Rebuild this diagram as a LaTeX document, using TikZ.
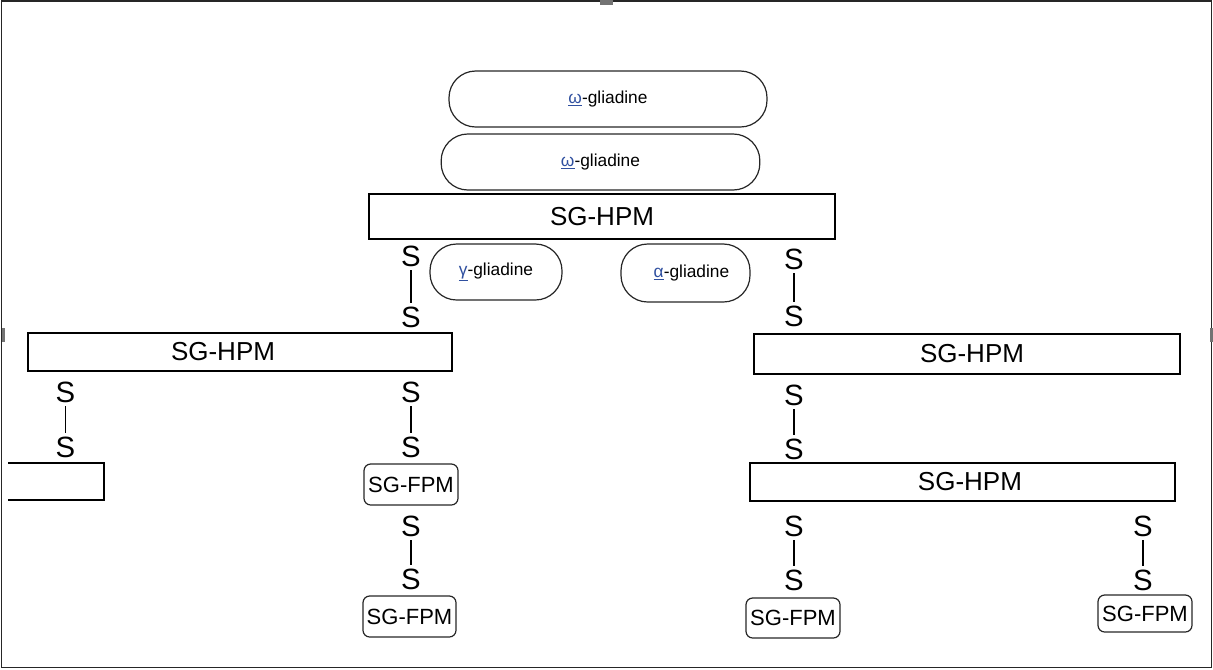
\documentclass[tikz,border=0pt]{standalone}
\usepackage{fontspec}
\setmainfont{Liberation Sans}
\definecolor{linkblue}{HTML}{2F4F9F}
\newcommand{\glia}[1]{\textcolor{linkblue}{\underline{#1}}-gliadine}
\begin{document}
\begin{tikzpicture}[x=0.75pt,y=-0.75pt,
        gliabox/.style={draw=black!85,line width=0.9pt,rounded corners=20pt,
                        inner sep=0pt,font=\fontsize{13}{15}\selectfont},
        hpmbox/.style={draw,line width=1.1pt,inner sep=0pt,
                        font=\fontsize{19.5}{22}\selectfont},
        fpmbox/.style={draw=black!85,line width=0.9pt,rounded corners=5pt,
                        inner sep=0pt,font=\fontsize{16.5}{18}\selectfont},
        sulf/.style={inner sep=2.6pt,text height=15.8pt,text depth=0pt,
                        font=\fontsize{22}{24}\selectfont},
        sbond/.style={line width=0.8pt}]
    \useasboundingbox (0,0) rectangle (1213,669);
    % frame and handles
    \draw[line width=1.3pt,black!85] (1.5,1) rectangle (1211.5,667.5);
    \fill[black!55] (600,0) rectangle (613,5);
    \fill[black!55] (2,328) rectangle (5,342);
    \fill[black!55] (1210,328) rectangle (1213,342);
    % gliadines
    \node[gliabox,minimum width=238.5pt,minimum height=42pt] (omega1) at (608,99) {\glia{ω}};
    \node[gliabox,minimum width=239pt,minimum height=42pt] (omega2) at (600.5,162) {\glia{ω}};
    \node[gliabox,minimum width=99pt,minimum height=42pt] (gamma) at (496,272) {\glia{γ}};
    \node[gliabox,minimum width=96.75pt,minimum height=43.5pt] (alpha) at (685.5,273)
        {\hspace*{9pt}\glia{α}};
    % HPM subunits
    \node[hpmbox,minimum width=349.5pt,minimum height=33.75pt] (hpmtop) at (602,216.5) {SG-HPM};
    \node[hpmbox,minimum width=318pt,minimum height=28.5pt,
          label={[xshift=-12.75pt,font=\fontsize{19.5}{22}\selectfont]center:SG-HPM}] (hpmleft) at (240,352) {};
    \node[hpmbox,minimum width=319.5pt,minimum height=30pt,
          label={[xshift=3.75pt,font=\fontsize{19.5}{22}\selectfont]center:SG-HPM}] (hpmright) at (967,354) {};
    \node[hpmbox,minimum width=318.75pt,minimum height=28.5pt,
          label={[xshift=5.6pt,font=\fontsize{19.5}{22}\selectfont]center:SG-HPM}] (hpmlow) at (962.5,482) {};
    \begin{scope}
        \clip (8,440) rectangle (120,520);
        \node[hpmbox,minimum width=126pt,minimum height=27.75pt] (hpmcut) at (20,481.5) {};
    \end{scope}
    % FPM subunits
    \node[fpmbox,minimum width=70.5pt,minimum height=30.75pt] (fpma) at (411,484.5) {SG-FPM};
    \node[fpmbox,minimum width=69.75pt,minimum height=30.75pt] (fpmb) at (409.5,616.5) {SG-FPM};
    \node[fpmbox,minimum width=70.5pt,minimum height=30pt] (fpmc) at (793,618) {SG-FPM};
    \node[fpmbox,minimum width=70.5pt,minimum height=27.75pt] (fpmd) at (1145,613.5) {SG-FPM};
    % disulfide bridges
    \node[sulf] (sa1) at (411,256) {S};
    \node[sulf] (sa2) at (411,317) {S};
    \node[sulf] (sb1) at (794,259) {S};
    \node[sulf] (sb2) at (794,316) {S};
    \node[sulf] (sc1) at (65.5,392) {S};
    \node[sulf] (sc2) at (65.5,447) {S};
    \node[sulf] (sd1) at (411,392) {S};
    \node[sulf] (sd2) at (411,447) {S};
    \node[sulf] (se1) at (794,395) {S};
    \node[sulf] (se2) at (794,449) {S};
    \node[sulf] (sf1) at (411,526) {S};
    \node[sulf] (sf2) at (411,579) {S};
    \node[sulf] (sg1) at (794,526) {S};
    \node[sulf] (sg2) at (794,580) {S};
    \node[sulf] (sh1) at (1143,526) {S};
    \node[sulf] (sh2) at (1143,580) {S};
    \path[sbond] (sa1) edge (sa2);
    \path[sbond] (sb1) edge (sb2);
    \path[sbond] (sc1) edge (sc2);
    \path[sbond] (sd1) edge (sd2);
    \path[sbond] (se1) edge (se2);
    \path[sbond] (sf1) edge (sf2);
    \path[sbond] (sg1) edge (sg2);
    \path[sbond] (sh1) edge (sh2);
\end{tikzpicture}
\end{document}
